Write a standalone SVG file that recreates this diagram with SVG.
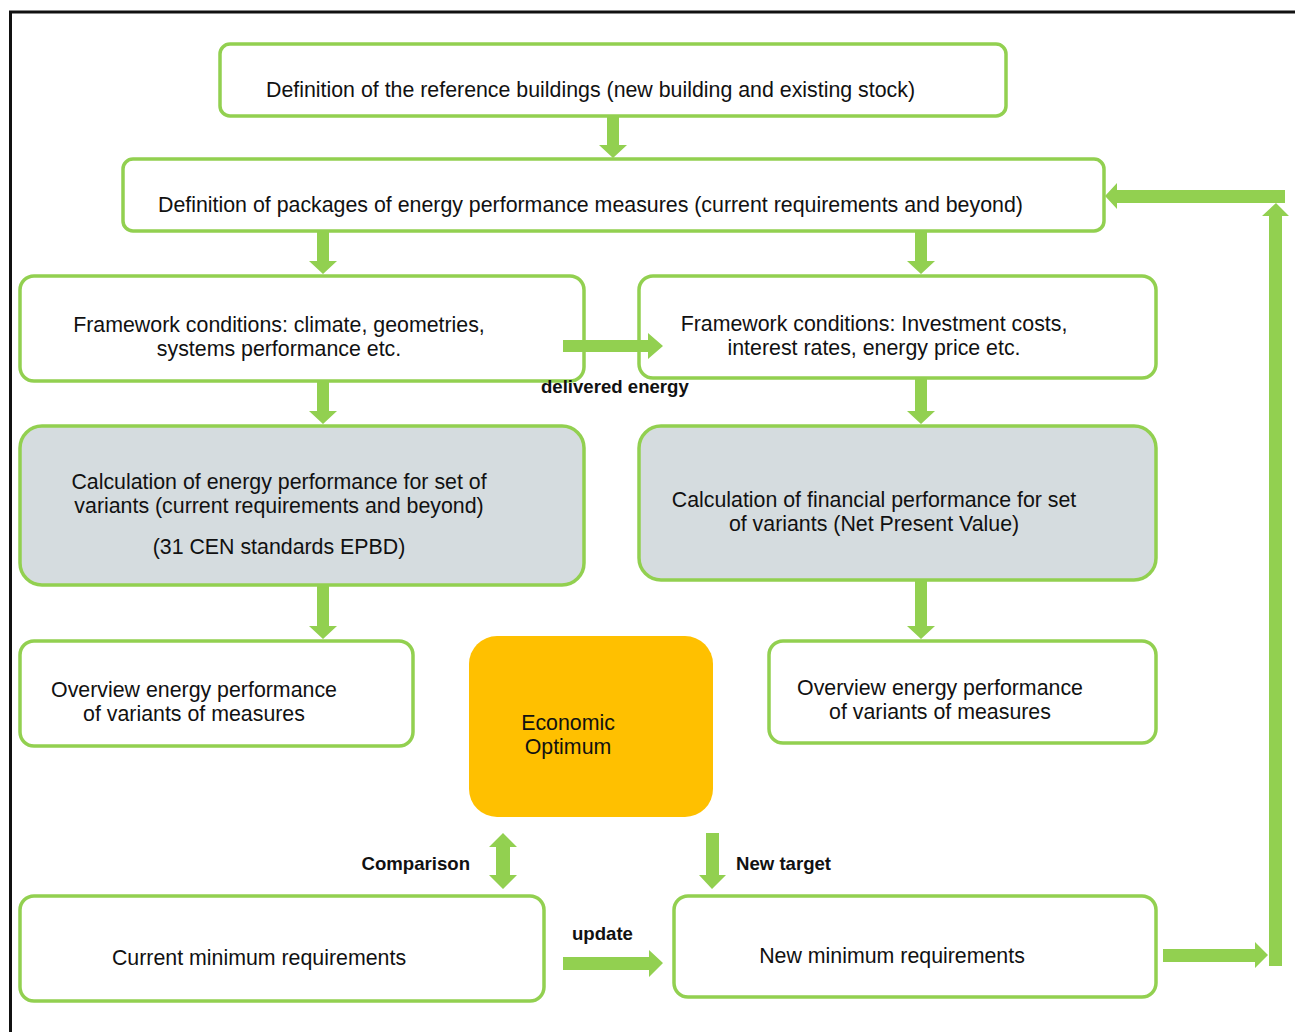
<svg xmlns="http://www.w3.org/2000/svg" width="1295" height="1032" viewBox="0 0 1295 1032">
<style>
.box{fill:#fff;stroke:#92D050;stroke-width:3.5}
.gray{fill:#D5DCDF;stroke:#92D050;stroke-width:3.5}
.t{font-family:"Liberation Sans",Arial,sans-serif;font-size:21.35px;fill:#111}
.c{text-anchor:middle}
.lb{font-family:"Liberation Sans",Arial,sans-serif;font-size:18.6px;font-weight:bold;fill:#111}
.ar{fill:#92D050}
</style>
<rect width="1295" height="1032" fill="#fff"/>
<path d="M10.5 1032 V12 H1295" fill="none" stroke="#111" stroke-width="3"/>
<g id="n1"><rect class="box" x="220" y="44" width="786" height="72" rx="10"/><text class="t" x="266" y="97">Definition of the reference buildings (new building and existing stock)</text></g>
<g id="n2"><rect class="box" x="123" y="159" width="981" height="72" rx="10"/><text class="t" x="158" y="212">Definition of packages of energy performance measures (current requirements and beyond)</text></g>
<g id="n3"><rect class="box" x="20" y="276" width="564" height="105" rx="14"/><text class="t c" x="279" y="332">Framework conditions: climate, geometries,</text><text class="t c" x="279" y="356">systems performance etc.</text></g>
<g id="n4"><rect class="box" x="639" y="276" width="517" height="102" rx="14"/><text class="t c" x="874" y="331">Framework conditions: Investment costs,</text><text class="t c" x="874" y="355">interest rates, energy price etc.</text></g>
<g id="n5"><rect class="gray" x="20" y="426" width="564" height="159" rx="22"/><text class="t c" x="279" y="489">Calculation of energy performance for set of</text><text class="t c" x="279" y="513">variants (current requirements and beyond)</text><text class="t c" x="279" y="554">(31 CEN standards EPBD)</text></g>
<g id="n6"><rect class="gray" x="639" y="426" width="517" height="154" rx="22"/><text class="t c" x="874" y="507">Calculation of financial performance for set</text><text class="t c" x="874" y="531">of variants (Net Present Value)</text></g>
<g id="n7"><rect class="box" x="20" y="641" width="393" height="105" rx="14"/><text class="t c" x="194" y="697">Overview energy performance</text><text class="t c" x="194" y="721">of variants of measures</text></g>
<g id="n8"><rect class="box" x="769" y="641" width="387" height="102" rx="14"/><text class="t c" x="940" y="695">Overview energy performance</text><text class="t c" x="940" y="719">of variants of measures</text></g>
<g id="n9"><rect x="469" y="636" width="244" height="181" rx="28" fill="#FFC000"/><text class="t c" x="568" y="730">Economic</text><text class="t c" x="568" y="754">Optimum</text></g>
<g id="n10"><rect class="box" x="20" y="896" width="524" height="105" rx="14"/><text class="t c" x="259" y="965">Current minimum requirements</text></g>
<g id="n11"><rect class="box" x="674" y="896" width="482" height="101" rx="14"/><text class="t c" x="892" y="963">New minimum requirements</text></g>
<g id="connectors">
<polygon class="ar" points="607,117 619,117 619,145 627,145 613,158 599,145 607,145"/>
<polygon class="ar" points="317,232 329,232 329,261 337,261 323,274 309,261 317,261"/>
<polygon class="ar" points="915,232 927,232 927,261 935,261 921,274 907,261 915,261"/>
<polygon class="ar" points="317,382 329,382 329,411 337,411 323,424 309,411 317,411"/>
<polygon class="ar" points="915,379 927,379 927,411 935,411 921,424 907,411 915,411"/>
<polygon class="ar" points="317,586 329,586 329,626 337,626 323,639 309,626 317,626"/>
<polygon class="ar" points="915,581 927,581 927,626 935,626 921,639 907,626 915,626"/>
<polygon class="ar" points="563,340 648,340 648,333 663,346 648,359 648,352 563,352"/>
<polygon class="ar" points="503,833 517,847 510,847 510,875 517,875 503,889 489,875 496,875 496,847 489,847"/>
<polygon class="ar" points="706,833 719,833 719,875 726,875 712,889 699,875 706,875"/>
<polygon class="ar" points="563,957 649,957 649,950 663,963 649,977 649,970 563,970"/>
<polygon class="ar" points="1163,949 1255,949 1255,942 1268,955 1255,968 1255,962 1163,962"/>
<polygon class="ar" points="1269,966 1269,216 1262,216 1276,203 1289,216 1282,216 1282,966"/>
<polygon class="ar" points="1285,190 1117,190 1117,183 1105,196 1117,209 1117,203 1285,203"/>
<text class="lb" x="541" y="393">delivered energy</text>
<text class="lb" x="470" y="870" text-anchor="end">Comparison</text>
<text class="lb" x="736" y="870">New target</text>
<text class="lb" x="572" y="940">update</text>
</g>
</svg>
